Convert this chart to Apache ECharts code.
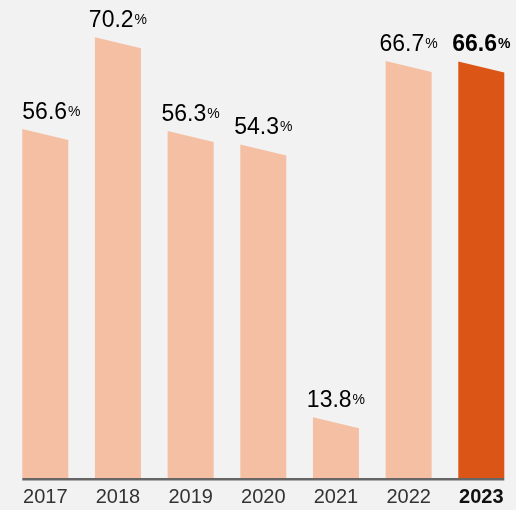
<!DOCTYPE html>
<html>
<head>
<meta charset="utf-8">
<style>
html,body{margin:0;padding:0;background:#f2f2f2;}
#c{width:516px;height:510px;}
</style>
<script src="https://cdn.jsdelivr.net/npm/echarts@6/dist/echarts.min.js"></script>
</head>
<body>
<div id="c"></div>
<script>
const years = ['2017', '2018', '2019', '2020', '2021', '2022', '2023'];
const values = [56.6, 70.2, 56.3, 54.3, 13.8, 66.7, 66.6];
const highlightIndex = 6;

const Y_MIN = 4.8, Y_MAX = 75;
const BAR_W = 46, SLANT = 11;
const LIGHT = '#f4bfa3', DARK = '#db5616';

const chart = echarts.init(document.getElementById('c'), null, {renderer: 'canvas'});

chart.setOption({
  backgroundColor: '#f2f2f2',
  animation: false,
  grid: {left: 45.3, right: 34.7, top: 5, bottom: 32},
  xAxis: {
    type: 'category',
    data: years,
    boundaryGap: false,
    axisLine: {show: false},
    axisTick: {show: false},
    axisLabel: {
      interval: 0,
      margin: 9,
      fontFamily: 'Liberation Sans',
      fontSize: 20,
      color: '#333',
      formatter: (v, i) => i === highlightIndex ? '{b|' + v + '}' : v,
      rich: {b: {fontFamily: 'Liberation Sans', fontSize: 20, fontWeight: 'bold', color: '#111'}}
    }
  },
  yAxis: {
    type: 'value', min: Y_MIN, max: Y_MAX,
    show: false, splitLine: {show: false}
  },
  series: [
    {
      type: 'custom',
      clip: false,
      data: values.map((v, i) => [i, v]),
      renderItem: function (params, api) {
        const idx = api.value(0);
        const v = api.value(1);
        const top = api.coord([idx, v]);
        const base = api.coord([idx, Y_MIN]);
        const x = top[0];
        const hl = idx === highlightIndex;
        const pts = [
          [x - BAR_W / 2, base[1]],
          [x - BAR_W / 2, top[1]],
          [x + BAR_W / 2, top[1] + SLANT],
          [x + BAR_W / 2, base[1]]
        ];
        const first = idx === 0;
        return {
          type: 'group',
          children: [
            {type: 'polygon', shape: {points: pts}, style: {fill: hl ? DARK : LIGHT}},
            {
              type: 'text',
              style: {
                text: '{v|' + v.toFixed(1) + '}{p|%}',
                x: first ? x - BAR_W / 2 : x,
                y: top[1] - 5,
                align: first ? 'left' : 'center',
                verticalAlign: 'bottom',
                rich: {
                  v: {fontFamily: 'Liberation Sans', fontSize: 23, color: hl ? '#111' : '#333', fontWeight: hl ? 'bold' : 'normal'},
                  p: {fontFamily: 'Liberation Sans', fontSize: 14, color: hl ? '#222' : '#555', fontWeight: hl ? 'bold' : 'normal', padding: [0, 0, 1, 1]}
                }
              }
            }
          ]
        };
      }
    },
    {
      type: 'custom',
      clip: false,
      data: [[0, years.length - 1]],
      z: 5,
      renderItem: function (params, api) {
        const a = api.coord([api.value(0), Y_MIN]);
        const b = api.coord([api.value(1), Y_MIN]);
        return {
          type: 'line',
          shape: {x1: a[0] - BAR_W / 2, y1: a[1] + 1.2, x2: b[0] + BAR_W / 2, y2: b[1] + 1.2},
          style: {stroke: '#666', lineWidth: 2.5}
        };
      }
    }
  ]
});
</script>
</body>
</html>
